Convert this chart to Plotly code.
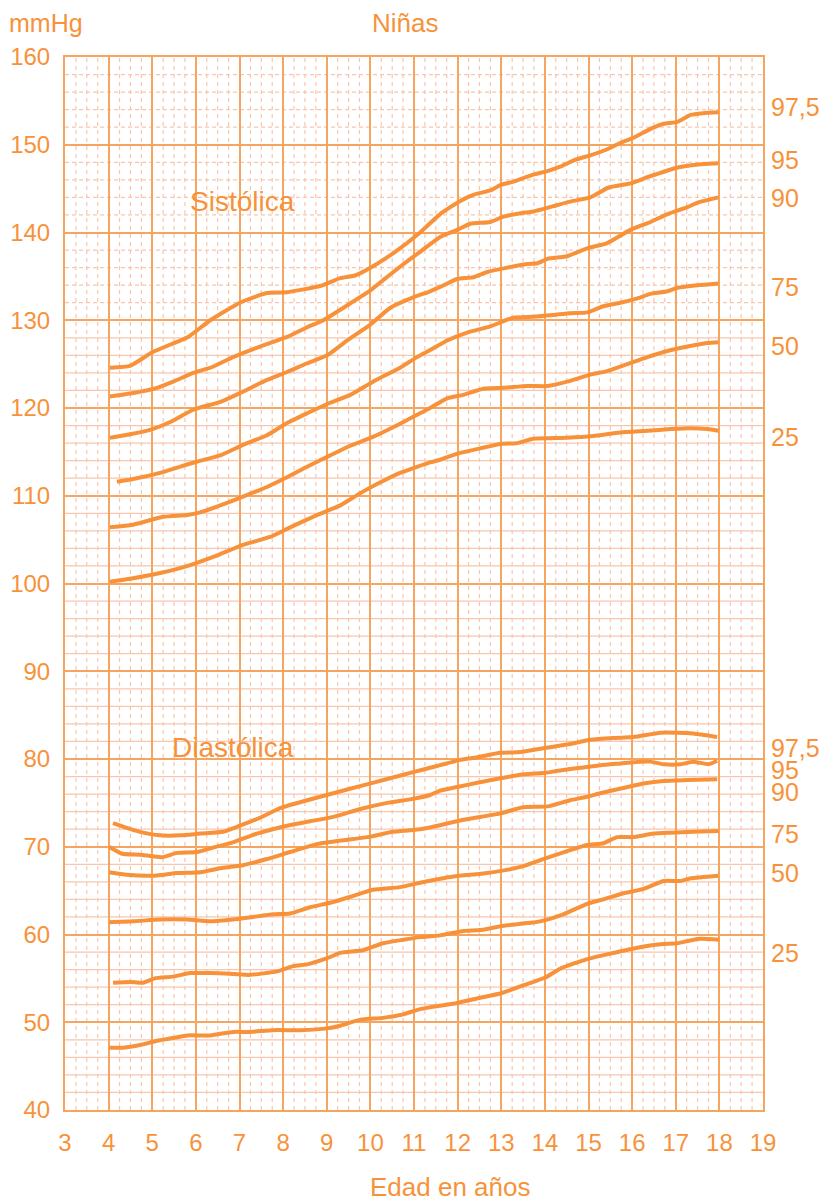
import plotly.graph_objects as go

# ---------------- data ----------------
percentiles = ["97,5", "95", "90", "75", "50", "25"]

# Systolic
sis_975_edad = [4.03, 4.49, 5.02, 5.82, 6.33, 7.01, 7.63, 8.09, 8.85, 9.31, 9.65, 10.11, 10.57, 11.14, 11.6, 12.06, 12.36, 12.75, 12.98, 13.28, 13.73, 14.06, 14.35, 14.65, 15.04, 15.39, 15.73, 16.03, 16.46, 16.72, 17.04, 17.34, 17.63, 17.98]
sis_975_mmhg = [124.6, 124.8, 126.4, 128.1, 130.0, 132.0, 133.1, 133.2, 133.9, 134.8, 135.1, 136.3, 137.8, 140.0, 142.1, 143.6, 144.3, 144.8, 145.4, 145.8, 146.6, 147.0, 147.5, 148.2, 148.8, 149.4, 150.2, 150.8, 151.9, 152.4, 152.6, 153.4, 153.6, 153.7]

sis_95_edad = [4.03, 4.56, 5.11, 5.48, 5.94, 6.39, 6.85, 7.47, 8.09, 8.55, 8.92, 9.47, 10.0, 10.3, 10.68, 11.14, 11.6, 11.99, 12.29, 12.75, 13.05, 13.44, 13.73, 14.19, 14.65, 15.04, 15.45, 15.96, 16.35, 16.65, 17.04, 17.4, 17.98]
sis_95_mmhg = [121.3, 121.7, 122.3, 123.0, 124.0, 124.7, 125.8, 127.0, 128.1, 129.2, 130.0, 131.7, 133.4, 134.6, 136.1, 137.8, 139.5, 140.3, 141.0, 141.2, 141.8, 142.2, 142.4, 143.0, 143.6, 144.0, 145.1, 145.6, 146.3, 146.8, 147.4, 147.7, 147.9]

sis_90_edad = [4.03, 4.49, 4.95, 5.41, 5.94, 6.56, 7.01, 7.63, 8.09, 8.55, 9.01, 9.47, 10.0, 10.45, 10.98, 11.37, 11.6, 11.99, 12.36, 12.68, 13.14, 13.6, 13.83, 14.06, 14.51, 14.97, 15.43, 15.96, 16.42, 16.81, 17.27, 17.5, 17.98]
sis_90_mmhg = [116.6, 117.0, 117.5, 118.4, 119.8, 120.7, 121.7, 123.2, 124.1, 125.1, 126.0, 127.7, 129.5, 131.4, 132.6, 133.3, 133.8, 134.7, 134.9, 135.5, 136.0, 136.4, 136.5, 137.0, 137.3, 138.2, 138.8, 140.3, 141.2, 142.1, 142.9, 143.4, 144.0]

sis_75_edad = [4.19, 4.56, 5.18, 5.57, 6.03, 6.56, 7.08, 7.63, 8.09, 8.55, 9.08, 9.54, 10.06, 10.68, 11.07, 11.37, 11.76, 12.22, 12.75, 13.28, 13.73, 14.19, 14.58, 14.97, 15.34, 15.73, 16.12, 16.42, 16.81, 17.04, 17.5, 17.98]
sis_75_mmhg = [111.6, 111.9, 112.6, 113.2, 113.9, 114.6, 115.8, 116.9, 118.3, 119.4, 120.6, 121.5, 123.0, 124.6, 125.8, 126.6, 127.7, 128.6, 129.3, 130.3, 130.4, 130.6, 130.8, 130.9, 131.6, 132.0, 132.5, 133.0, 133.3, 133.7, 134.0, 134.2]

sis_50_edad = [4.03, 4.56, 5.25, 5.8, 6.1, 6.56, 7.08, 7.63, 8.09, 8.55, 9.08, 9.54, 10.06, 10.52, 10.98, 11.37, 11.76, 12.13, 12.59, 13.05, 13.6, 14.06, 14.51, 15.04, 15.43, 15.89, 16.35, 16.81, 17.27, 17.72, 17.98]
sis_50_mmhg = [106.4, 106.7, 107.6, 107.8, 108.1, 108.9, 109.9, 111.0, 112.1, 113.3, 114.6, 115.7, 116.7, 117.8, 119.0, 120.0, 121.1, 121.5, 122.2, 122.3, 122.5, 122.5, 123.0, 123.8, 124.2, 125.0, 125.8, 126.5, 127.0, 127.4, 127.5]

sis_25_edad = [4.03, 4.56, 5.18, 5.87, 6.49, 7.08, 7.7, 8.16, 8.78, 9.31, 9.77, 10.22, 10.68, 11.07, 11.37, 11.6, 11.99, 12.52, 12.98, 13.37, 13.73, 14.51, 15.11, 15.73, 16.35, 16.88, 17.34, 17.72, 17.98]
sis_25_mmhg = [100.2, 100.6, 101.2, 102.1, 103.2, 104.4, 105.3, 106.4, 107.8, 108.9, 110.3, 111.5, 112.6, 113.3, 113.8, 114.1, 114.8, 115.4, 115.9, 116.0, 116.5, 116.6, 116.8, 117.2, 117.4, 117.6, 117.7, 117.6, 117.4]

# Diastolic
dia_975_edad = [4.1, 4.33, 4.72, 5.18, 5.64, 6.1, 6.62, 7.01, 7.47, 7.93, 8.55, 9.15, 9.83, 10.45, 10.98, 11.37, 11.6, 12.06, 12.45, 12.98, 13.44, 14.06, 14.58, 15.04, 15.57, 16.03, 16.65, 17.04, 17.4, 17.95]
dia_975_mmhg = [72.7, 72.3, 71.7, 71.3, 71.3, 71.5, 71.7, 72.4, 73.3, 74.4, 75.3, 76.1, 77.0, 77.8, 78.5, 79.0, 79.3, 79.9, 80.2, 80.7, 80.8, 81.3, 81.7, 82.2, 82.4, 82.5, 83.0, 83.0, 82.9, 82.5]

dia_95_edad = [4.01, 4.31, 4.72, 5.22, 5.57, 6.03, 6.39, 6.85, 7.4, 8.09, 8.62, 9.15, 9.77, 10.39, 10.91, 11.37, 11.6, 11.99, 12.45, 12.98, 13.44, 13.96, 14.35, 14.81, 15.27, 15.73, 16.19, 16.42, 16.72, 17.11, 17.4, 17.75, 17.95]
dia_95_mmhg = [70.0, 69.2, 69.1, 68.8, 69.3, 69.4, 69.9, 70.5, 71.5, 72.4, 72.9, 73.4, 74.3, 75.0, 75.4, 75.9, 76.4, 76.8, 77.3, 77.8, 78.2, 78.4, 78.7, 79.0, 79.3, 79.5, 79.7, 79.7, 79.4, 79.4, 79.7, 79.4, 79.8]

dia_90_edad = [4.01, 4.42, 5.02, 5.57, 6.1, 6.62, 7.08, 7.63, 8.16, 8.78, 9.31, 9.93, 10.52, 10.98, 11.37, 12.06, 12.52, 12.98, 13.5, 14.06, 14.58, 14.97, 15.27, 15.8, 16.26, 16.72, 17.27, 17.95]
dia_90_mmhg = [67.1, 66.8, 66.7, 67.0, 67.1, 67.6, 67.9, 68.6, 69.4, 70.3, 70.7, 71.1, 71.7, 71.9, 72.2, 73.0, 73.4, 73.8, 74.5, 74.6, 75.3, 75.7, 76.1, 76.7, 77.2, 77.5, 77.6, 77.7]

dia_75_edad = [4.01, 4.56, 5.18, 5.8, 6.33, 6.85, 7.31, 7.77, 8.16, 8.62, 9.15, 9.54, 10.06, 10.68, 11.14, 11.9, 12.68, 13.44, 13.96, 14.51, 14.97, 15.34, 15.66, 16.03, 16.49, 16.88, 17.4, 17.98]
dia_75_mmhg = [61.4, 61.5, 61.7, 61.7, 61.5, 61.7, 62.0, 62.3, 62.4, 63.1, 63.7, 64.3, 65.1, 65.4, 65.9, 66.6, 67.0, 67.7, 68.6, 69.5, 70.2, 70.4, 71.1, 71.1, 71.5, 71.6, 71.7, 71.8]

dia_50_edad = [4.1, 4.49, 4.79, 5.06, 5.48, 5.87, 6.33, 6.85, 7.24, 7.86, 8.23, 8.55, 9.01, 9.31, 9.83, 10.29, 10.75, 11.14, 11.6, 12.13, 12.52, 13.05, 13.6, 13.89, 14.42, 14.97, 15.34, 15.8, 16.26, 16.72, 17.11, 17.34, 17.98]
dia_50_mmhg = [54.5, 54.6, 54.5, 55.0, 55.2, 55.6, 55.6, 55.5, 55.4, 55.8, 56.4, 56.6, 57.3, 57.9, 58.2, 59.0, 59.4, 59.7, 59.9, 60.4, 60.5, 61.0, 61.3, 61.5, 62.3, 63.5, 64.0, 64.7, 65.2, 66.1, 66.1, 66.4, 66.7]

dia_25_edad = [4.01, 4.33, 4.72, 5.11, 5.48, 5.8, 6.33, 6.85, 7.24, 7.77, 8.39, 9.01, 9.31, 9.77, 10.29, 10.75, 11.14, 11.37, 11.99, 12.52, 13.0, 13.5, 14.01, 14.35, 14.97, 15.57, 16.12, 16.65, 17.04, 17.5, 18.0]
dia_25_mmhg = [47.1, 47.1, 47.4, 47.9, 48.2, 48.5, 48.5, 48.9, 48.9, 49.1, 49.1, 49.3, 49.6, 50.3, 50.5, 50.9, 51.5, 51.7, 52.2, 52.8, 53.3, 54.2, 55.1, 56.1, 57.2, 57.9, 58.5, 58.9, 59.0, 59.5, 59.4]

# label positions (mmHg level where each percentile label sits at the right)
sis_label_mmhg = [154.3, 148.3, 143.9, 133.8, 127.1, 116.7]
dia_label_mmhg = [81.3, 78.8, 76.2, 71.5, 67.0, 57.9]

x_ticks = list(range(3, 20))
y_ticks = list(range(40, 161, 10))

# ---------------- styling ----------------
ORANGE = "#F7923A"
GRID_MAJOR = "#F6A561"
GRID_MINOR = "#F8C6AE"
FONT = "Liberation Sans, Arial, sans-serif"

fig = go.Figure()

curves = [
    (sis_975_edad, sis_975_mmhg), (sis_95_edad, sis_95_mmhg), (sis_90_edad, sis_90_mmhg),
    (sis_75_edad, sis_75_mmhg), (sis_50_edad, sis_50_mmhg), (sis_25_edad, sis_25_mmhg),
    (dia_975_edad, dia_975_mmhg), (dia_95_edad, dia_95_mmhg), (dia_90_edad, dia_90_mmhg),
    (dia_75_edad, dia_75_mmhg), (dia_50_edad, dia_50_mmhg), (dia_25_edad, dia_25_mmhg),
]
for ex, ey in curves:
    fig.add_trace(go.Scatter(
        x=ex, y=ey, mode="lines",
        line=dict(color=ORANGE, width=4, shape="spline", smoothing=0.5),
        hoverinfo="skip", showlegend=False,
    ))

# minor grid: vertical dashed every quarter year, horizontal every 2 mmHg
shapes = []
q = 3.25
while q < 19:
    if abs(q - round(q)) > 1e-9:
        shapes.append(dict(type="line", xref="x", yref="y", x0=q, x1=q, y0=40, y1=160,
                           line=dict(color=GRID_MINOR, width=1.2, dash="4px,4px"), layer="below"))
    q += 0.25
for v in range(42, 160, 2):
    if v % 10 == 0:
        continue
    dash = "4px,3px" if v > 130 else "solid"
    shapes.append(dict(type="line", xref="x", yref="y", x0=3, x1=19, y0=v, y1=v,
                       line=dict(color=GRID_MINOR, width=1.2, dash=dash), layer="below"))

annotations = []
def txt(text, x, y, xref="paper", yref="paper", size=24, xanchor="center", yanchor="middle"):
    annotations.append(dict(text=text, x=x, y=y, xref=xref, yref=yref, showarrow=False,
                            font=dict(family=FONT, size=size, color=ORANGE),
                            xanchor=xanchor, yanchor=yanchor))

txt("mmHg", -0.083, 1.032, size=25, xanchor="left")
txt("Niñas", 0.487, 1.032, size=26)
txt("Edad en años", 0.552, -0.073, size=26)
txt("Sistólica", 7.06, 143.5, xref="x", yref="y", size=28)
txt("Diastólica", 6.85, 81.3, xref="x", yref="y", size=28)
for lab, v in zip(percentiles, sis_label_mmhg):
    txt(lab, 1.009, v, yref="y", size=25, xanchor="left")
for lab, v in zip(percentiles, dia_label_mmhg):
    txt(lab, 1.009, v, yref="y", size=25, xanchor="left")

# the page adds an 8px body margin, so the figure is sized to fit inside the window
fig.update_layout(
    width=821, height=1194,
    margin=dict(l=57, r=66, t=49, b=92, autoexpand=False),
    paper_bgcolor="white", plot_bgcolor="white",
    shapes=shapes, annotations=annotations,
    font=dict(family=FONT, color=ORANGE, size=24),
)
fig.update_xaxes(
    range=[3, 19], tickvals=x_ticks, ticktext=[str(t) for t in x_ticks],
    showgrid=True, gridcolor=GRID_MAJOR, gridwidth=1.6,
    showline=True, linecolor=GRID_MAJOR, linewidth=2, mirror=True,
    ticks="", ticklabelstandoff=10, zeroline=False, automargin=False,
    tickfont=dict(family=FONT, size=24, color=ORANGE),
)
fig.update_yaxes(
    range=[40, 160], tickvals=y_ticks, ticktext=[str(t) for t in y_ticks],
    showgrid=True, gridcolor=GRID_MAJOR, gridwidth=1.6,
    showline=True, linecolor=GRID_MAJOR, linewidth=2, mirror=True,
    ticks="", ticklabelstandoff=8, zeroline=False, automargin=False,
    tickfont=dict(family=FONT, size=24, color=ORANGE),
)

fig.write_html("out.html")
